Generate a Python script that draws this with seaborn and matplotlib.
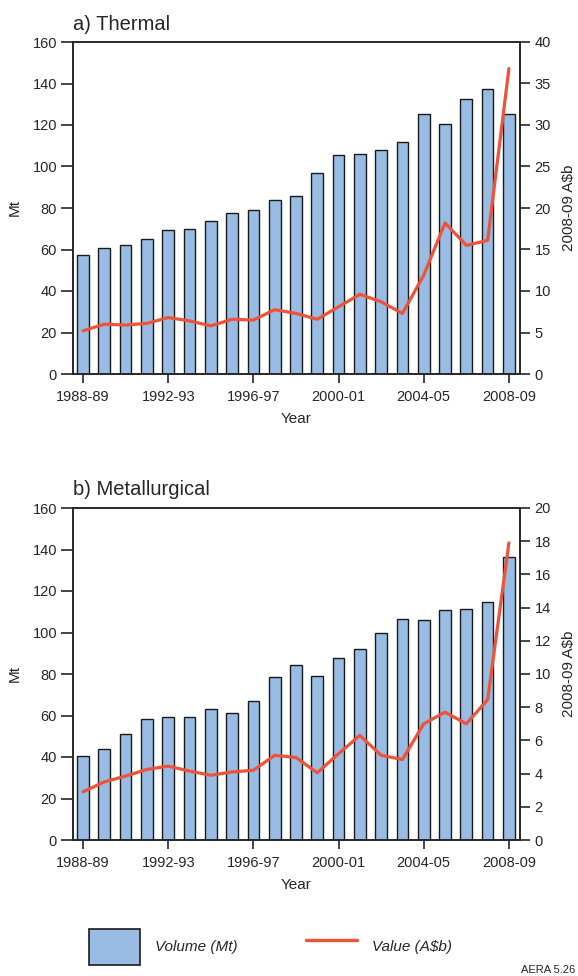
import numpy as np
import pandas as pd
import matplotlib
matplotlib.use("Agg")
import matplotlib.pyplot as plt
import seaborn as sns
from matplotlib.patches import Patch
from matplotlib.lines import Line2D

years = ["1988-89", "1989-90", "1990-91", "1991-92", "1992-93", "1993-94", "1994-95",
         "1995-96", "1996-97", "1997-98", "1998-99", "1999-00", "2000-01", "2001-02",
         "2002-03", "2003-04", "2004-05", "2005-06", "2006-07", "2007-08", "2008-09"]

thermal_volume = [57.5, 60.5, 62.1, 65.2, 69.5, 70.0, 73.7, 77.8, 78.8, 84.0, 85.6,
                  97.1, 105.5, 105.9, 108.0, 111.7, 125.4, 120.5, 132.3, 137.2, 125.4]
thermal_value = [5.2, 6.0, 5.9, 6.1, 6.8, 6.4, 5.8, 6.6, 6.5, 7.75, 7.3,
                 6.6, 8.1, 9.6, 8.7, 7.3, 11.9, 18.2, 15.5, 16.1, 36.8]

met_volume = [40.3, 44.0, 51.2, 58.1, 59.5, 59.1, 62.9, 61.0, 67.1, 78.5, 84.3,
              79.0, 87.8, 92.0, 99.8, 106.6, 106.1, 110.8, 111.4, 114.9, 136.6]
met_value = [2.9, 3.5, 3.85, 4.25, 4.45, 4.15, 3.9, 4.1, 4.2, 5.1, 4.97,
             4.05, 5.2, 6.3, 5.1, 4.85, 7.0, 7.7, 7.0, 8.45, 17.9]

panels = [
    ("a) Thermal", thermal_volume, thermal_value, 40, 5),
    ("b) Metallurgical", met_volume, met_value, 20, 2),
]

sns.set_style("ticks")
plt.rcParams["font.family"] = ["Liberation Sans", "DejaVu Sans"]

BAR = "#98BCE3"
LINE = "#EE5339"
W, H = 578, 976
fig = plt.figure(figsize=(W / 100, H / 100), dpi=100)

boxes = [(73, 42, 520, 374), (73, 508, 520, 840)]

for (title, vol, val, rmax, rstep), (l, t, r, b) in zip(panels, boxes):
    ax = fig.add_axes([l / W, 1 - b / H, (r - l) / W, (b - t) / H])
    df = pd.DataFrame({"year": years, "vol": vol, "val": val})
    sns.barplot(data=df, x="year", y="vol", ax=ax, color=BAR, width=0.55,
                edgecolor="#1a1a1a", linewidth=1.0, saturation=1)
    ax.set_xlim(-0.47, 20.52)
    ax.set_ylim(0, 160)
    ax.set_yticks(np.arange(0, 161, 20))
    ax.set_xticks(range(0, 21, 4))
    ax.set_xticklabels(years[::4])
    ax.set_ylabel("Mt", fontsize=11, labelpad=8)
    ax.set_xlabel("Year", fontsize=11, labelpad=6)
    ax.tick_params(axis="y", length=8.5, width=1.2, labelsize=10.5, pad=3)
    ax.tick_params(axis="x", length=6.5, width=1.2, labelsize=10.5, pad=5)
    for s in ax.spines.values():
        s.set_linewidth(1.2)
        s.set_visible(True)
    ax.set_title(title, loc="left", fontsize=14.5, pad=9)

    ax2 = ax.twinx()
    sns.lineplot(x=np.arange(len(years)), y=val, ax=ax2, color=LINE, linewidth=2.3)
    ax2.set_ylim(0, rmax)
    ax2.set_yticks(np.arange(0, rmax + 0.1, rstep))
    ax2.set_ylabel("2008-09 A\\$b", fontsize=11, labelpad=8)
    ax2.tick_params(axis="y", length=7.5, width=1.2, labelsize=10.5, pad=3)
    for s in ax2.spines.values():
        s.set_linewidth(1.2)
    ax2.set_xlim(-0.47, 20.52)

handles = [Patch(facecolor=BAR, edgecolor="#1a1a1a", linewidth=1.2),
           Line2D([0], [0], color=LINE, linewidth=2.4)]
fig.legend(handles, ["Volume (Mt)", "Value (A\\$b)"], loc="center",
           bbox_to_anchor=(0.468, 1 - 947 / H), ncol=2, frameon=False,
           prop={"style": "italic", "size": 11}, handlelength=3.3,
           handleheight=3.2, handletextpad=1.0, columnspacing=4.5)

fig.text(575 / W, 1 - 970 / H, "AERA 5.26", ha="right", va="center", fontsize=8)

fig.savefig("out.png", dpi=100)
